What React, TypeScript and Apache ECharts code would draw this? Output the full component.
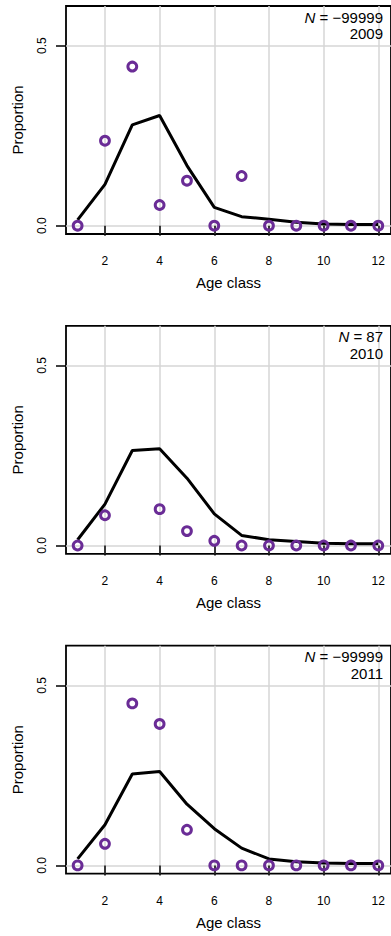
import React, { useEffect, useRef } from "react";
import * as echarts from "echarts";

// Age-composition fits: observed proportions (circles) vs. expected (line)
const ageClasses = [1, 2, 3, 4, 5, 6, 7, 8, 9, 10, 11, 12];
const years = ["2009", "2010", "2011"];
const sampleSizes = ["−99999", "87", "−99999"];

const observed2009 = [0, 0.236, 0.442, 0.0575, 0.125, 0, 0.138, 0, 0, 0, 0, 0];
const expected2009 = [0.016, 0.115, 0.28, 0.306, 0.167, 0.051, 0.025, 0.018, 0.0094, 0.005, 0.003, 0.003];

const observed2010 = [0, 0.084, 0.762, 0.101, 0.04, 0.013, 0, 0, 0, 0, 0, 0];
const expected2010 = [0.016, 0.115, 0.264, 0.269, 0.187, 0.088, 0.028, 0.016, 0.011, 0.0065, 0.005, 0.005];

const observed2011 = [0, 0.06, 0.45, 0.393, 0.099, 0, 0, 0, 0, 0, 0, 0];
const expected2011 = [0.018, 0.113, 0.254, 0.261, 0.17, 0.102, 0.048, 0.018, 0.01, 0.0065, 0.005, 0.005];

const xTicks = [2, 4, 6, 8, 10, 12];
const yTicks = [0, 0.5];

const observedSets = [observed2009, observed2010, observed2011];
const expectedSets = [expected2009, expected2010, expected2011];

const FONT = "'Liberation Sans', Arial, Helvetica, sans-serif";
const PURPLE = "#6a2c96";
const GRID_GREY = "#d6d6d6";

const PANEL_TOPS = [6, 325.8, 645.7];
const PANEL_HEIGHT = 228;
const PANEL_LEFT = 66;
const X_MIN = 0.5745;
const X_MAX = 12.465;
const Y_MIN = -0.0231;
const Y_MAX = 0.6103;

function buildOption() {
  const grid = PANEL_TOPS.map((top) => ({
    left: PANEL_LEFT,
    right: -2,
    top,
    height: PANEL_HEIGHT,
    show: true,
    borderColor: "#000",
    borderWidth: 1.8,
    backgroundColor: "transparent",
    containLabel: false,
  }));

  const xAxis = PANEL_TOPS.map((_, i) => ({
    type: "value",
    gridIndex: i,
    min: X_MIN,
    max: X_MAX,
    name: "Age class",
    nameLocation: "middle",
    nameGap: 41,
    nameTextStyle: { fontFamily: FONT, fontSize: 15, color: "#000" },
    axisLine: { show: false },
    axisTick: {
      show: true,
      length: 10,
      customValues: xTicks,
      lineStyle: { color: "#000", width: 1.5 },
    },
    axisLabel: {
      show: true,
      customValues: xTicks,
      margin: 21,
      fontFamily: FONT,
      fontSize: 12,
      color: "#000",
    },
    splitLine: { show: true, lineStyle: { color: GRID_GREY, width: 1.5 } },
  }));

  const yAxis = PANEL_TOPS.map((_, i) => ({
    type: "value",
    gridIndex: i,
    min: Y_MIN,
    max: Y_MAX,
    name: "Proportion",
    nameLocation: "middle",
    nameGap: 41,
    nameTextStyle: { fontFamily: FONT, fontSize: 15, color: "#000" },
    axisLine: { show: false },
    axisTick: {
      show: true,
      length: 10,
      customValues: yTicks,
      lineStyle: { color: "#000", width: 1.5 },
    },
    axisLabel: {
      show: true,
      customValues: yTicks,
      rotate: 90,
      margin: 18,
      fontFamily: FONT,
      fontSize: 12,
      color: "#000",
      formatter: (v: number) => v.toFixed(1),
    },
    splitLine: { show: true, lineStyle: { color: GRID_GREY, width: 1.5 } },
  }));

  const series: any[] = [];
  PANEL_TOPS.forEach((_, i) => {
    series.push({
      type: "line",
      xAxisIndex: i,
      yAxisIndex: i,
      data: ageClasses.map((a, k) => [a, expectedSets[i][k]]),
      symbol: "none",
      lineStyle: { color: "#000", width: 3 },
      z: 3,
    });
    series.push({
      type: "scatter",
      xAxisIndex: i,
      yAxisIndex: i,
      data: ageClasses.map((a, k) => [a, observedSets[i][k]]),
      symbol: "circle",
      symbolSize: 8.8,
      clip: true,
      itemStyle: {
        color: "rgba(255,255,255,0)",
        borderColor: PURPLE,
        borderWidth: 3,
        opacity: 1,
      },
      z: 4,
    });
  });

  const graphic: any[] = [];
  PANEL_TOPS.forEach((top, i) => {
    graphic.push({
      type: "text",
      x: 383,
      y: top + 11,
      z: 10,
      style: {
        text: `{i|N} = ${sampleSizes[i]}`,
        rich: {
          i: { fontStyle: "italic", fontFamily: FONT, fontSize: 15, fill: "#000" },
        },
        fontFamily: FONT,
        fontSize: 15,
        fill: "#000",
        align: "right",
        verticalAlign: "middle",
      },
    });
    graphic.push({
      type: "text",
      x: 383,
      y: top + 27.5,
      z: 10,
      style: {
        text: years[i],
        fontFamily: FONT,
        fontSize: 15,
        fill: "#000",
        align: "right",
        verticalAlign: "middle",
      },
    });
  });

  return {
    animation: false,
    backgroundColor: "#fff",
    grid,
    xAxis,
    yAxis,
    series,
    graphic,
  };
}

export default function App() {
  const ref = useRef<HTMLDivElement>(null);

  useEffect(() => {
    if (!ref.current) return;
    const chart = echarts.init(ref.current, undefined, { renderer: "svg" });
    chart.setOption(buildOption() as any);
    return () => chart.dispose();
  }, []);

  return (
    <div
      ref={ref}
      style={{ position: "fixed", left: 0, top: 0, width: 391, height: 936 }}
    />
  );
}
